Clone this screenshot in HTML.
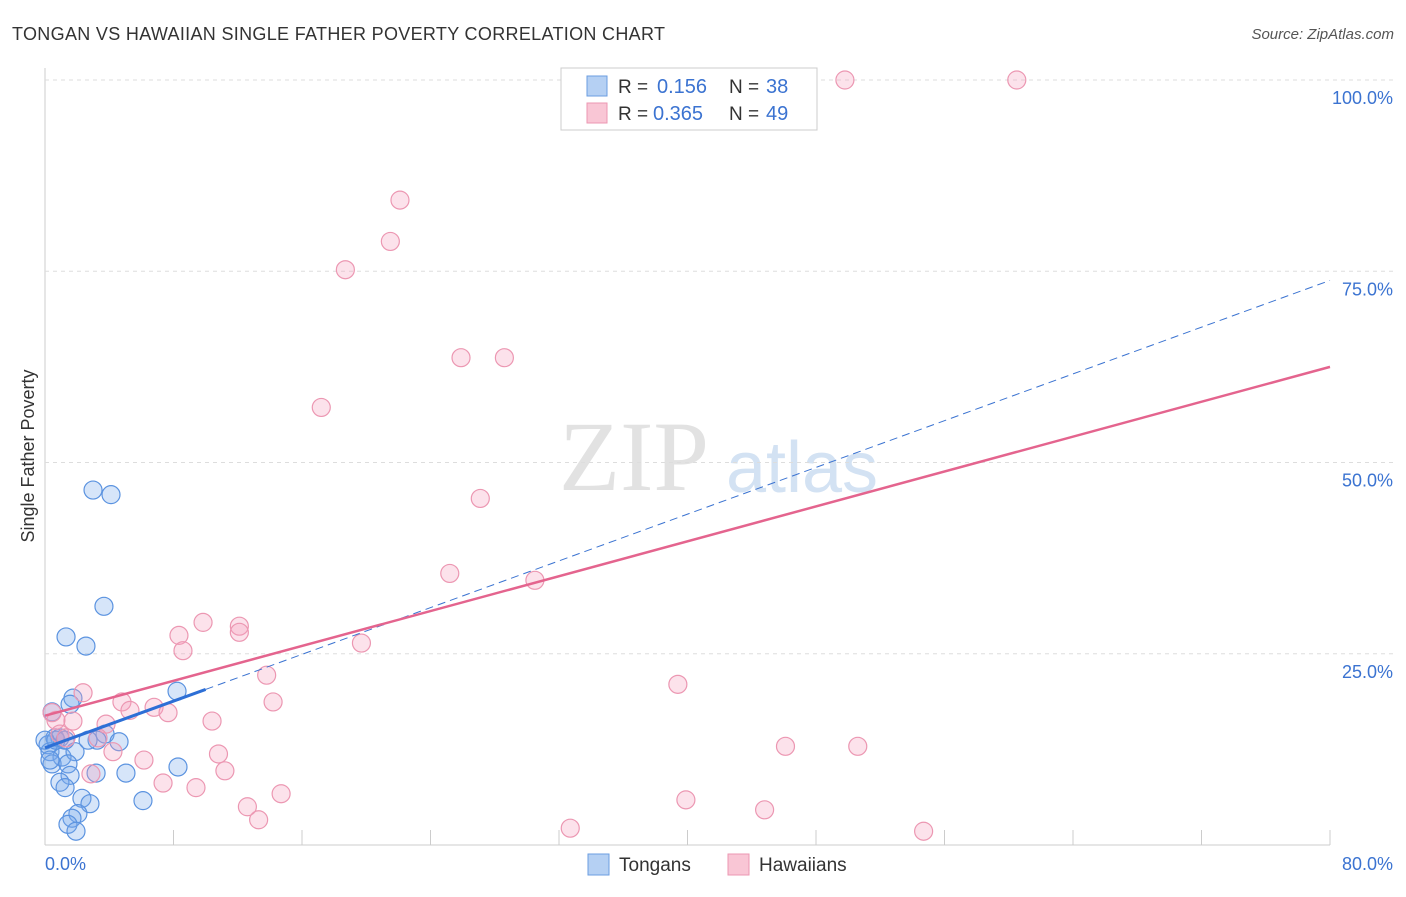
<!DOCTYPE html>
<html><head><meta charset="utf-8"><style>
body{margin:0;background:#fff;font-family:"Liberation Sans",sans-serif}
svg text{font-family:"Liberation Sans",sans-serif}
</style></head><body>
<svg id="chart" width="1406" height="892" xmlns="http://www.w3.org/2000/svg">
<text x="12" y="40" font-size="18" fill="#333" textLength="653">TONGAN VS HAWAIIAN SINGLE FATHER POVERTY CORRELATION CHART</text>
<text x="1394" y="39" font-size="15" fill="#555" text-anchor="end" font-style="italic">Source: ZipAtlas.com</text>
<text x="634" y="490" font-size="100" fill="#e2e2e2" style="font-family:'Liberation Serif',serif" text-anchor="middle">ZIP</text>
<text x="802" y="492" font-size="72" fill="#d3e2f3" text-anchor="middle">atlas</text>
<text transform="translate(34,456) rotate(-90)" font-size="18" fill="#333" text-anchor="middle">Single Father Poverty</text>
<g id="grid"></g><g id="marks"></g><g id="lines"></g>
<g>
<rect x="561" y="68" width="256" height="62" fill="#fff" stroke="#ccc"/>
<rect x="587" y="76" width="20" height="20" fill="#b5d0f3" stroke="#6b9ee0"/>
<rect x="587" y="103" width="20" height="20" fill="#f9c6d5" stroke="#ec97b2"/>
<text x="618" y="93" font-size="19" fill="#333">R = <tspan x="657" fill="#3b73d1" font-size="20">0.156</tspan><tspan x="729">N = </tspan><tspan x="766" fill="#3b73d1" font-size="20">38</tspan></text>
<text x="618" y="120" font-size="19" fill="#333">R = <tspan x="653" fill="#3b73d1" font-size="20">0.365</tspan><tspan x="729">N = </tspan><tspan x="766" fill="#3b73d1" font-size="20">49</tspan></text>
</g>
<g>
<rect x="588" y="854" width="21" height="21" fill="#b5d0f3" stroke="#6b9ee0"/>
<text x="619" y="871" font-size="19" fill="#333">Tongans</text>
<rect x="728" y="854" width="21" height="21" fill="#f9c6d5" stroke="#ec97b2"/>
<text x="759" y="871" font-size="19" fill="#333">Hawaiians</text>
</g>
</svg>
<script>
const xTicks=[0,8,16,24,32,40,48,56,64,72,80];
const yTicks=[25,50,75,100];
const yTickLabels=["25.0%","50.0%","75.0%","100.0%"];
const xEndLabels=["0.0%","80.0%"];
const tonganX=[2.99,4.11,3.67,1.31,2.55,8.22,1.74,1.56,0.44,3.74,4.61,3.24,0.62,0.93,0.19,0.31,1.06,1.87,0.44,1.43,3.18,5.04,1.56,8.28,0.93,1.25,2.30,2.80,6.10,2.05,1.68,1.43,1.93,0.68,0.31,0,1.25,2.68];
const tonganY=[46.4,45.8,31.2,27.2,26.0,20.1,19.2,18.4,17.4,14.5,13.5,13.7,14.0,14.0,13.1,12.2,11.5,12.2,10.6,10.6,9.4,9.4,9.1,10.2,8.2,7.5,6.1,5.4,5.8,4.1,3.5,2.7,1.8,13.7,11.1,13.7,13.7,13.7];
const hawaiianX=[49.8,60.5,22.1,21.5,18.7,25.9,28.6,17.2,27.1,25.2,30.5,9.84,12.1,12.1,8.34,19.7,8.59,13.8,39.4,2.37,14.2,4.79,5.29,6.79,7.66,1.74,3.80,10.4,0.68,0.93,1.31,3.30,46.1,50.6,10.8,6.16,4.23,11.2,2.86,7.35,9.40,14.7,12.6,39.9,44.8,13.3,32.7,54.7,0.44];
const hawaiianY=[100,100,84.3,78.9,75.2,63.7,63.7,57.2,45.3,35.5,34.6,29.1,28.6,27.8,27.4,26.4,25.4,22.2,21.0,19.9,18.7,18.7,17.6,18.0,17.3,16.2,15.8,16.2,16.3,14.5,14.0,14.0,12.9,12.9,11.9,11.1,12.2,9.7,9.3,8.1,7.5,6.7,5.0,5.9,4.6,3.3,2.2,1.8,17.3];
const tonganTrend=[12.7,73.8];
const hawaiianTrend=[16.9,62.5];
const X=v=>45+v/80*1285, Y=v=>845-v/100*765;
const NS="http://www.w3.org/2000/svg";
function mk(tag,attrs,parent){const e=document.createElementNS(NS,tag);for(const k in attrs)e.setAttribute(k,attrs[k]);document.getElementById(parent).appendChild(e);return e;}
let e;
e=mk('line',{x1:45,y1:68,x2:45,y2:845,stroke:'#ccc'},'grid');


e=mk('line',{x1:45,y1:845,x2:1330,y2:845,stroke:'#ccc'},'grid');


xTicks.forEach(t=>{e=mk('line',{x1:X(t),y1:830,x2:X(t),y2:845,stroke:'#ccc'},'grid');

});
yTicks.forEach((t,i)=>{e=mk('line',{x1:45,y1:Y(t),x2:1394,y2:Y(t),stroke:'#ddd','stroke-dasharray':'4,4'},'grid');


e=mk('text',{x:1393,y:Y(t)+24,'font-size':18,fill:'#3b73d1','text-anchor':'end'},'grid');e.textContent=yTickLabels[i];

});
e=mk('text',{x:45,y:870,'font-size':18,fill:'#3b73d1'},'grid');e.textContent=xEndLabels[0];


e=mk('text',{x:1393,y:870,'font-size':18,fill:'#3b73d1','text-anchor':'end'},'grid');e.textContent=xEndLabels[1];


tonganX.forEach((v,i)=>{e=mk('circle',{cx:X(v),cy:Y(tonganY[i]),r:9,fill:'rgba(120,170,235,0.3)',stroke:'#5b93e0','stroke-width':1.2},'marks');

});
hawaiianX.forEach((v,i)=>{e=mk('circle',{cx:X(v),cy:Y(hawaiianY[i]),r:9,fill:'rgba(245,160,190,0.3)',stroke:'#ec97b2','stroke-width':1.2},'marks');

});
const tAt=x=>tonganTrend[0]+(tonganTrend[1]-tonganTrend[0])*x/80;
e=mk('line',{x1:X(10),y1:Y(tAt(10)),x2:X(80),y2:Y(tAt(80)),stroke:'#3b73d1','stroke-width':1,'stroke-dasharray':'8,5'},'lines');


e=mk('line',{x1:X(0),y1:Y(tAt(0)),x2:X(10),y2:Y(tAt(10)),stroke:'#2d6fd6','stroke-width':3},'lines');


e=mk('line',{x1:X(0),y1:Y(hawaiianTrend[0]),x2:X(80),y2:Y(hawaiianTrend[1]),stroke:'#e4648e','stroke-width':2.5},'lines');


</script>
</body></html>
